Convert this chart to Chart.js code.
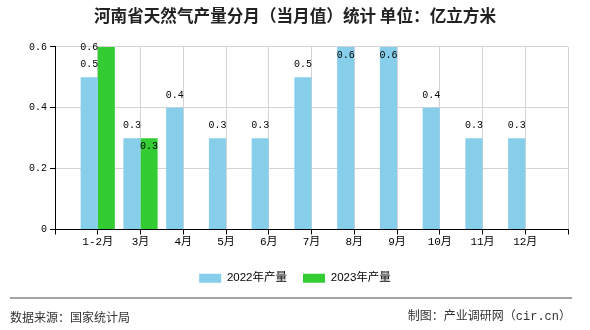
<!DOCTYPE html>
<html>
<head>
<meta charset="utf-8">
<script src="https://cdn.jsdelivr.net/npm/chart.js@4.4.0/dist/chart.umd.min.js"></script>
<style>
  html, body { margin: 0; padding: 0; background: #fff; }
  #wrap { width: 590px; height: 330px; }
</style>
</head>
<body>
<div id="wrap"><canvas id="chart" width="590" height="330"></canvas></div>
<script>
// chart values
const months = ['1-2月', '3月', '4月', '5月', '6月', '7月', '8月', '9月', '10月', '11月', '12月'];
const output2022 = [0.5, 0.3, 0.4, 0.3, 0.3, 0.5, 0.6, 0.6, 0.4, 0.3, 0.3];
const output2023 = [0.6, 0.3];
const seriesNames = ['2022年产量', '2023年产量'];
const yTicks = [0, 0.2, 0.4, 0.6];

const titleText = '河南省天然气产量分月（当月值）统计 单位：亿立方米';
const sourceText = '数据来源：国家统计局';
const makerText = '制图：产业调研网（cir.cn）';

// empty slot at each end, like the original axis
const labels = [''].concat(months, ['']);
const pad = arr => [null].concat(arr, new Array(labels.length - 1 - arr.length).fill(null));

const MONO = '"Liberation Mono", "DejaVu Sans Mono", "Noto Sans CJK SC", monospace';
const CJK = '"Noto Sans CJK SC", "Liberation Sans", sans-serif';

// value labels above bars (inside the top when there is no room)
const valueLabels = {
    id: 'valueLabels',
    afterDatasetsDraw(chart) {
        const { ctx, chartArea } = chart;
        ctx.save();
        ctx.font = '10px ' + MONO;
        ctx.fillStyle = '#000';
        ctx.textAlign = 'center';
        ctx.textBaseline = 'middle';
        chart.data.datasets.forEach((ds, di) => {
            const meta = chart.getDatasetMeta(di);
            meta.data.forEach((bar, i) => {
                const v = ds.data[i];
                if (v == null) return;
                let x = bar.x;
                let y = bar.y - 12.5;
                if (di > 0) {
                    if (bar.y <= chartArea.top + 1) {
                        x = chart.getDatasetMeta(di - 1).data[i].x;
                        y = chartArea.top;
                    } else {
                        y = bar.y + 8;
                    }
                } else if (y - 5 < chartArea.top) {
                    y = bar.y + 8;
                }
                ctx.fillText(v.toFixed(1), x, y);
            });
        });
        ctx.restore();
    },
};

// footer rule and source lines
const footer = {
    id: 'footer',
    afterDraw(chart) {
        const { ctx } = chart;
        ctx.save();
        ctx.strokeStyle = '#858585';
        ctx.lineWidth = 1.5;
        ctx.beginPath();
        ctx.moveTo(10, 298);
        ctx.lineTo(572, 298);
        ctx.stroke();
        ctx.fillStyle = '#333';
        ctx.textBaseline = 'middle';
        ctx.font = '12px ' + CJK;
        ctx.textAlign = 'left';
        ctx.fillText(sourceText, 10, 317);
        ctx.font = '12px ' + MONO;
        ctx.textAlign = 'right';
        ctx.fillText(makerText, 571, 317);
        ctx.restore();
    },
};

const chart = new Chart(document.getElementById('chart'), {
    type: 'bar',
    data: {
        labels,
        datasets: [
            {
                label: seriesNames[0],
                data: pad(output2022),
                backgroundColor: '#87ceeb',
                categoryPercentage: 0.8,
                barPercentage: 1.0,
            },
            {
                label: seriesNames[1],
                data: pad(output2023),
                backgroundColor: '#33cc33',
                categoryPercentage: 0.8,
                barPercentage: 1.0,
            },
        ],
    },
    options: {
        responsive: false,
        animation: false,
        layout: { padding: { left: 0, right: 0, top: 0, bottom: 36 } },
        plugins: {
            title: {
                display: true,
                text: titleText,
                color: '#222',
                font: { family: CJK, size: 16.6, weight: 'bold', lineHeight: 1.2 },
                padding: { top: 6, bottom: 21 },
            },
            legend: {
                position: 'bottom',
                labels: {
                    boxWidth: 22,
                    boxHeight: 9,
                    padding: 16,
                    color: '#000',
                    font: { family: '"Liberation Sans", "Noto Sans CJK SC", sans-serif', size: 11.5 },
                },
            },
            tooltip: { enabled: false },
        },
        scales: {
            x: {
                offset: false,
                grid: { offset: false, color: '#d4d4d4', tickColor: '#000', tickLength: 5 },
                border: { color: '#000' },
                ticks: {
                    autoSkip: false,
                    maxRotation: 0,
                    padding: 1,
                    color: '#000',
                    font: { family: MONO, size: 11 },
                },
                afterFit(scale) { scale.height = 27; },
            },
            y: {
                min: 0,
                max: yTicks[yTicks.length - 1],
                afterBuildTicks(scale) { scale.ticks = yTicks.map(value => ({ value })); },
                grid: { color: '#d4d4d4', tickColor: '#000', tickLength: 5 },
                border: { color: '#000' },
                ticks: {
                    padding: 3,
                    color: '#000',
                    font: { family: MONO, size: 10 },
                    callback: v => (v === 0 ? '0' : v.toFixed(1)),
                },
                afterFit(scale) { scale.width = 55; },
            },
            // blank right margin so title and legend stay centred on the canvas
            yRight: {
                position: 'right',
                min: 0,
                max: yTicks[yTicks.length - 1],
                grid: { display: false },
                border: { display: false },
                ticks: { display: false },
                afterFit(scale) { scale.width = 22; },
            },
        },
    },
    plugins: [valueLabels, footer],
});
</script>
</body>
</html>
